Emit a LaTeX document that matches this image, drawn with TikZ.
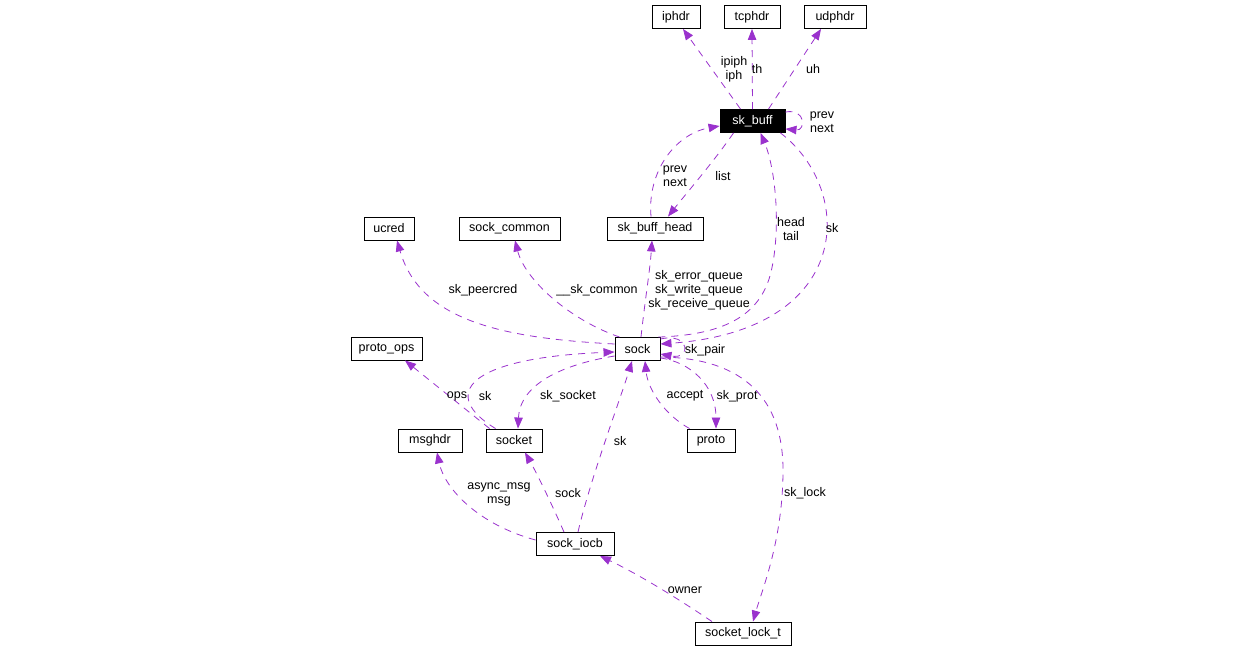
\documentclass[tikz,border=0pt]{standalone}
\usepackage{fontspec}
\setmainfont{Liberation Sans}
\usetikzlibrary{arrows.meta}
\definecolor{dep}{HTML}{9A32CD}
\begin{document}
\begin{tikzpicture}[x=1pt,y=-1pt,
  box/.style={draw=black, fill=white, line width=0.9pt, minimum height=23pt, inner sep=0pt,
    font=\fontsize{12.5}{14}\selectfont},
  hbox/.style={box, fill=black, text=white},
  lbl/.style={font=\fontsize{12.5}{14}\selectfont, align=center, inner sep=0pt},
  depl/.style={draw=dep, line width=0.8pt, dash pattern=on 7pt off 6pt,
    -{Triangle[length=11pt,width=8.5pt]}, fill=none},
]
\useasboundingbox (0,0) rectangle (1256,650);
% nodes
\node[box, minimum width=48pt] (iphdr) at (676,17) {iphdr};
\node[box, minimum width=56pt] (tcphdr) at (752,17) {tcphdr};
\node[box, minimum width=62pt] (udphdr) at (835,17) {udphdr};
\node[hbox, minimum width=65pt] (skbuff) at (752.5,121) {sk\_buff};
\node[box, minimum width=50pt] (ucred) at (389,228.5) {ucred};
\node[box, minimum width=101pt] (sockcommon) at (509.5,228.5) {sock\_common};
\node[box, minimum width=96pt] (skbh) at (655,228.5) {sk\_buff\_head};
\node[box, minimum width=71pt] (protoops) at (386.5,348.5) {proto\_ops};
\node[box, minimum width=45pt] (sock) at (637.5,349) {sock};
\node[box, minimum width=64pt] (msghdr) at (430,440.5) {msghdr};
\node[box, minimum width=56pt] (socket) at (514,440.5) {socket};
\node[box, minimum width=48pt] (proto) at (711,440.5) {proto};
\node[box, minimum width=78pt] (sockiocb) at (575,544) {sock\_iocb};
\node[box, minimum width=96pt] (socklock) at (743,633.5) {socket\_lock\_t};

% edges around sk_buff
\draw[depl] ([xshift=-12pt]skbuff.north) -- ([xshift=7pt]iphdr.south);
\draw[depl] (skbuff.north) -- (tcphdr.south);
\draw[depl] ([xshift=16pt]skbuff.north) -- ([xshift=-14pt]udphdr.south);
\draw[depl] ([yshift=-3pt]skbuff.north east) .. controls (806,108) and (806,131) .. ([yshift=4pt]skbuff.south east);
\draw[depl] ([xshift=-4pt]skbh.north) .. controls (647,172) and (675,134) .. ([yshift=-5pt]skbuff.west);
\draw[depl] ([xshift=-19pt]skbuff.south) .. controls (715,160) and (685,195) .. ([xshift=13pt]skbh.north);
\draw[depl] ([xshift=-2pt]sock.north east) .. controls (720,335) and (760,318) .. (771,272) .. controls (781,230) and (776,170) .. ([xshift=8pt]skbuff.south);
\draw[depl] ([xshift=-5pt]skbuff.south east) .. controls (855,190) and (855,330) .. ([yshift=5pt]sock.east);

% edges from sock upward
\draw[depl] ([yshift=5pt]sock.west) .. controls (500,338) and (420,320) .. ([xshift=8pt]ucred.south);
\draw[depl] ([xshift=5pt]sock.north west) .. controls (570,320) and (525,280) .. ([xshift=5.5pt]sockcommon.south);
\draw[depl] ([xshift=3.5pt]sock.north) .. controls (645,300) and (650,270) .. ([xshift=-3pt]skbh.south);

% sk_pair self loop
\draw[depl] ([yshift=-2pt]sock.north east) .. controls (690,332) and (692,360) .. ([yshift=-5pt]sock.east);

% socket / proto
\draw[depl] ([xshift=4pt]socket.north west) -- ([xshift=18.5pt]protoops.south);
\draw[depl] ([xshift=10pt]socket.north west) .. controls (440,395) and (465,358) .. ([yshift=-3pt]sock.west);
\draw[depl] ([yshift=-7pt]sock.west) .. controls (560,365) and (520,385) .. ([xshift=4pt]socket.north);
\draw[depl] ([xshift=3pt]proto.north west) .. controls (665,415) and (648,390) .. ([xshift=7.5pt]sock.south);
\draw[depl] ([yshift=3pt]sock.south east) .. controls (690,362) and (716,385) .. ([xshift=5pt]proto.north);

% sk_lock
\draw[depl] ([yshift=-8pt]sock.east) .. controls (745,358) and (783,400) .. (783,470) .. controls (783,540) and (762,590) .. ([xshift=10pt]socklock.north);

% sock_iocb
\draw[depl] ([yshift=4pt]sockiocb.west) .. controls (480,525) and (445,490) .. ([xshift=7pt]msghdr.south);
\draw[depl] ([xshift=-11pt]sockiocb.north) .. controls (550,500) and (535,470) .. ([xshift=11pt]socket.south);
\draw[depl] ([xshift=3pt]sockiocb.north) .. controls (590,480) and (620,400) .. ([xshift=-5.5pt]sock.south);
\draw[depl] ([xshift=-31pt]socklock.north) .. controls (680,600) and (640,575) .. ([xshift=25pt]sockiocb.south);

% labels
\node[lbl] (l1) at (734,69) {ipiph\\iph};
\node[lbl] (l2) at (757,69) {th};
\node[lbl] (l3) at (813,69) {uh};
\node[lbl] (l4) at (822,122) {prev\\next};
\node[lbl] (l5) at (675,176) {prev\\next};
\node[lbl] (l6) at (723,176) {list};
\node[lbl] (l7) at (791,229) {head\\tail};
\node[lbl] (l8) at (832,228) {sk};
\node[lbl] (l9) at (699,290) {sk\_error\_queue\\sk\_write\_queue\\sk\_receive\_queue};
\node[lbl] (l10) at (483,290) {sk\_peercred};
\node[lbl] (l11) at (597,290) {\_\_sk\_common};
\node[lbl] (l12) at (705,350) {sk\_pair};
\node[lbl] (l13) at (457,396) {ops};
\node[lbl] (l14) at (485,396) {sk};
\node[lbl] (l15) at (568,396) {sk\_socket};
\node[lbl] (l16) at (685,396) {accept};
\node[lbl] (l17) at (737,396) {sk\_prot};
\node[lbl] (l18) at (620,441) {sk};
\node[lbl] (l19) at (499,494) {async\_msg\\msg};
\node[lbl] (l20) at (568,493) {sock};
\node[lbl] (l21) at (805,493) {sk\_lock};
\node[lbl] (l22) at (685,590) {owner};
\end{tikzpicture}
\end{document}
